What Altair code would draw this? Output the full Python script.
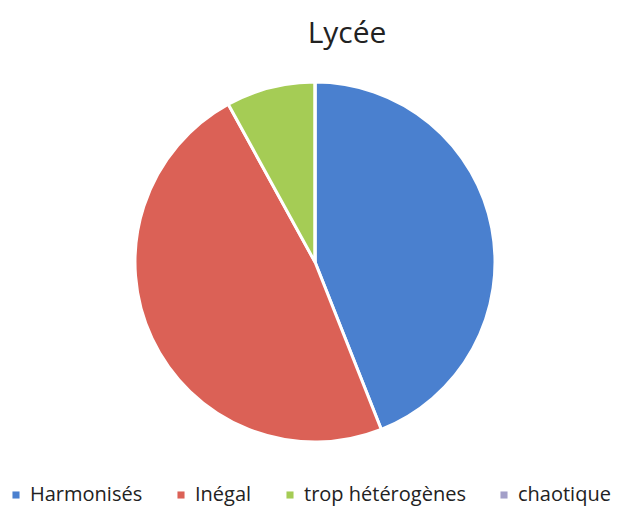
import altair as alt
import pandas as pd

categories = ["Harmonisés", "Inégal", "trop hétérogènes", "chaotique"]
values = [11, 12, 2, 0]
colors = ["#4A80CF", "#DB6156", "#A5CC55", "#A39FC8"]
title_text = "Lycée"

df = pd.DataFrame({"cat": categories, "val": values, "idx": list(range(len(categories)))})

pie = alt.Chart(df).mark_arc(outerRadius=180, stroke="white", strokeWidth=3).encode(
    theta=alt.Theta("val:Q", stack=True),
    color=alt.Color(
        "cat:N",
        scale=alt.Scale(domain=categories, range=colors),
        legend=alt.Legend(
            orient="none", legendX=-2, legendY=477, direction="horizontal",
            title=None, symbolType="square", symbolSize=50, symbolStrokeWidth=0,
            labelFontSize=20, labelFont="Open Sans", labelColor="#222222",
            columnPadding=28, labelOffset=4, labelLimit=300,
        ),
        sort=categories,
    ),
    order=alt.Order("idx:Q"),
    x=alt.value(307),
    y=alt.value(254),
)

title = alt.Chart(pd.DataFrame({"t": [title_text]})).mark_text(
    font="Open Sans", fontSize=30, color="#222222", align="center", baseline="alphabetic"
).encode(text="t:N", x=alt.value(339), y=alt.value(35))

chart = alt.layer(pie, title).properties(
    width=605, height=502, autosize=alt.AutoSizeParams(type="none"), padding=0
).configure(background="white", view=alt.ViewConfig(stroke=None))

chart.save("out.html", embed_options={"renderer": "svg", "actions": False})
